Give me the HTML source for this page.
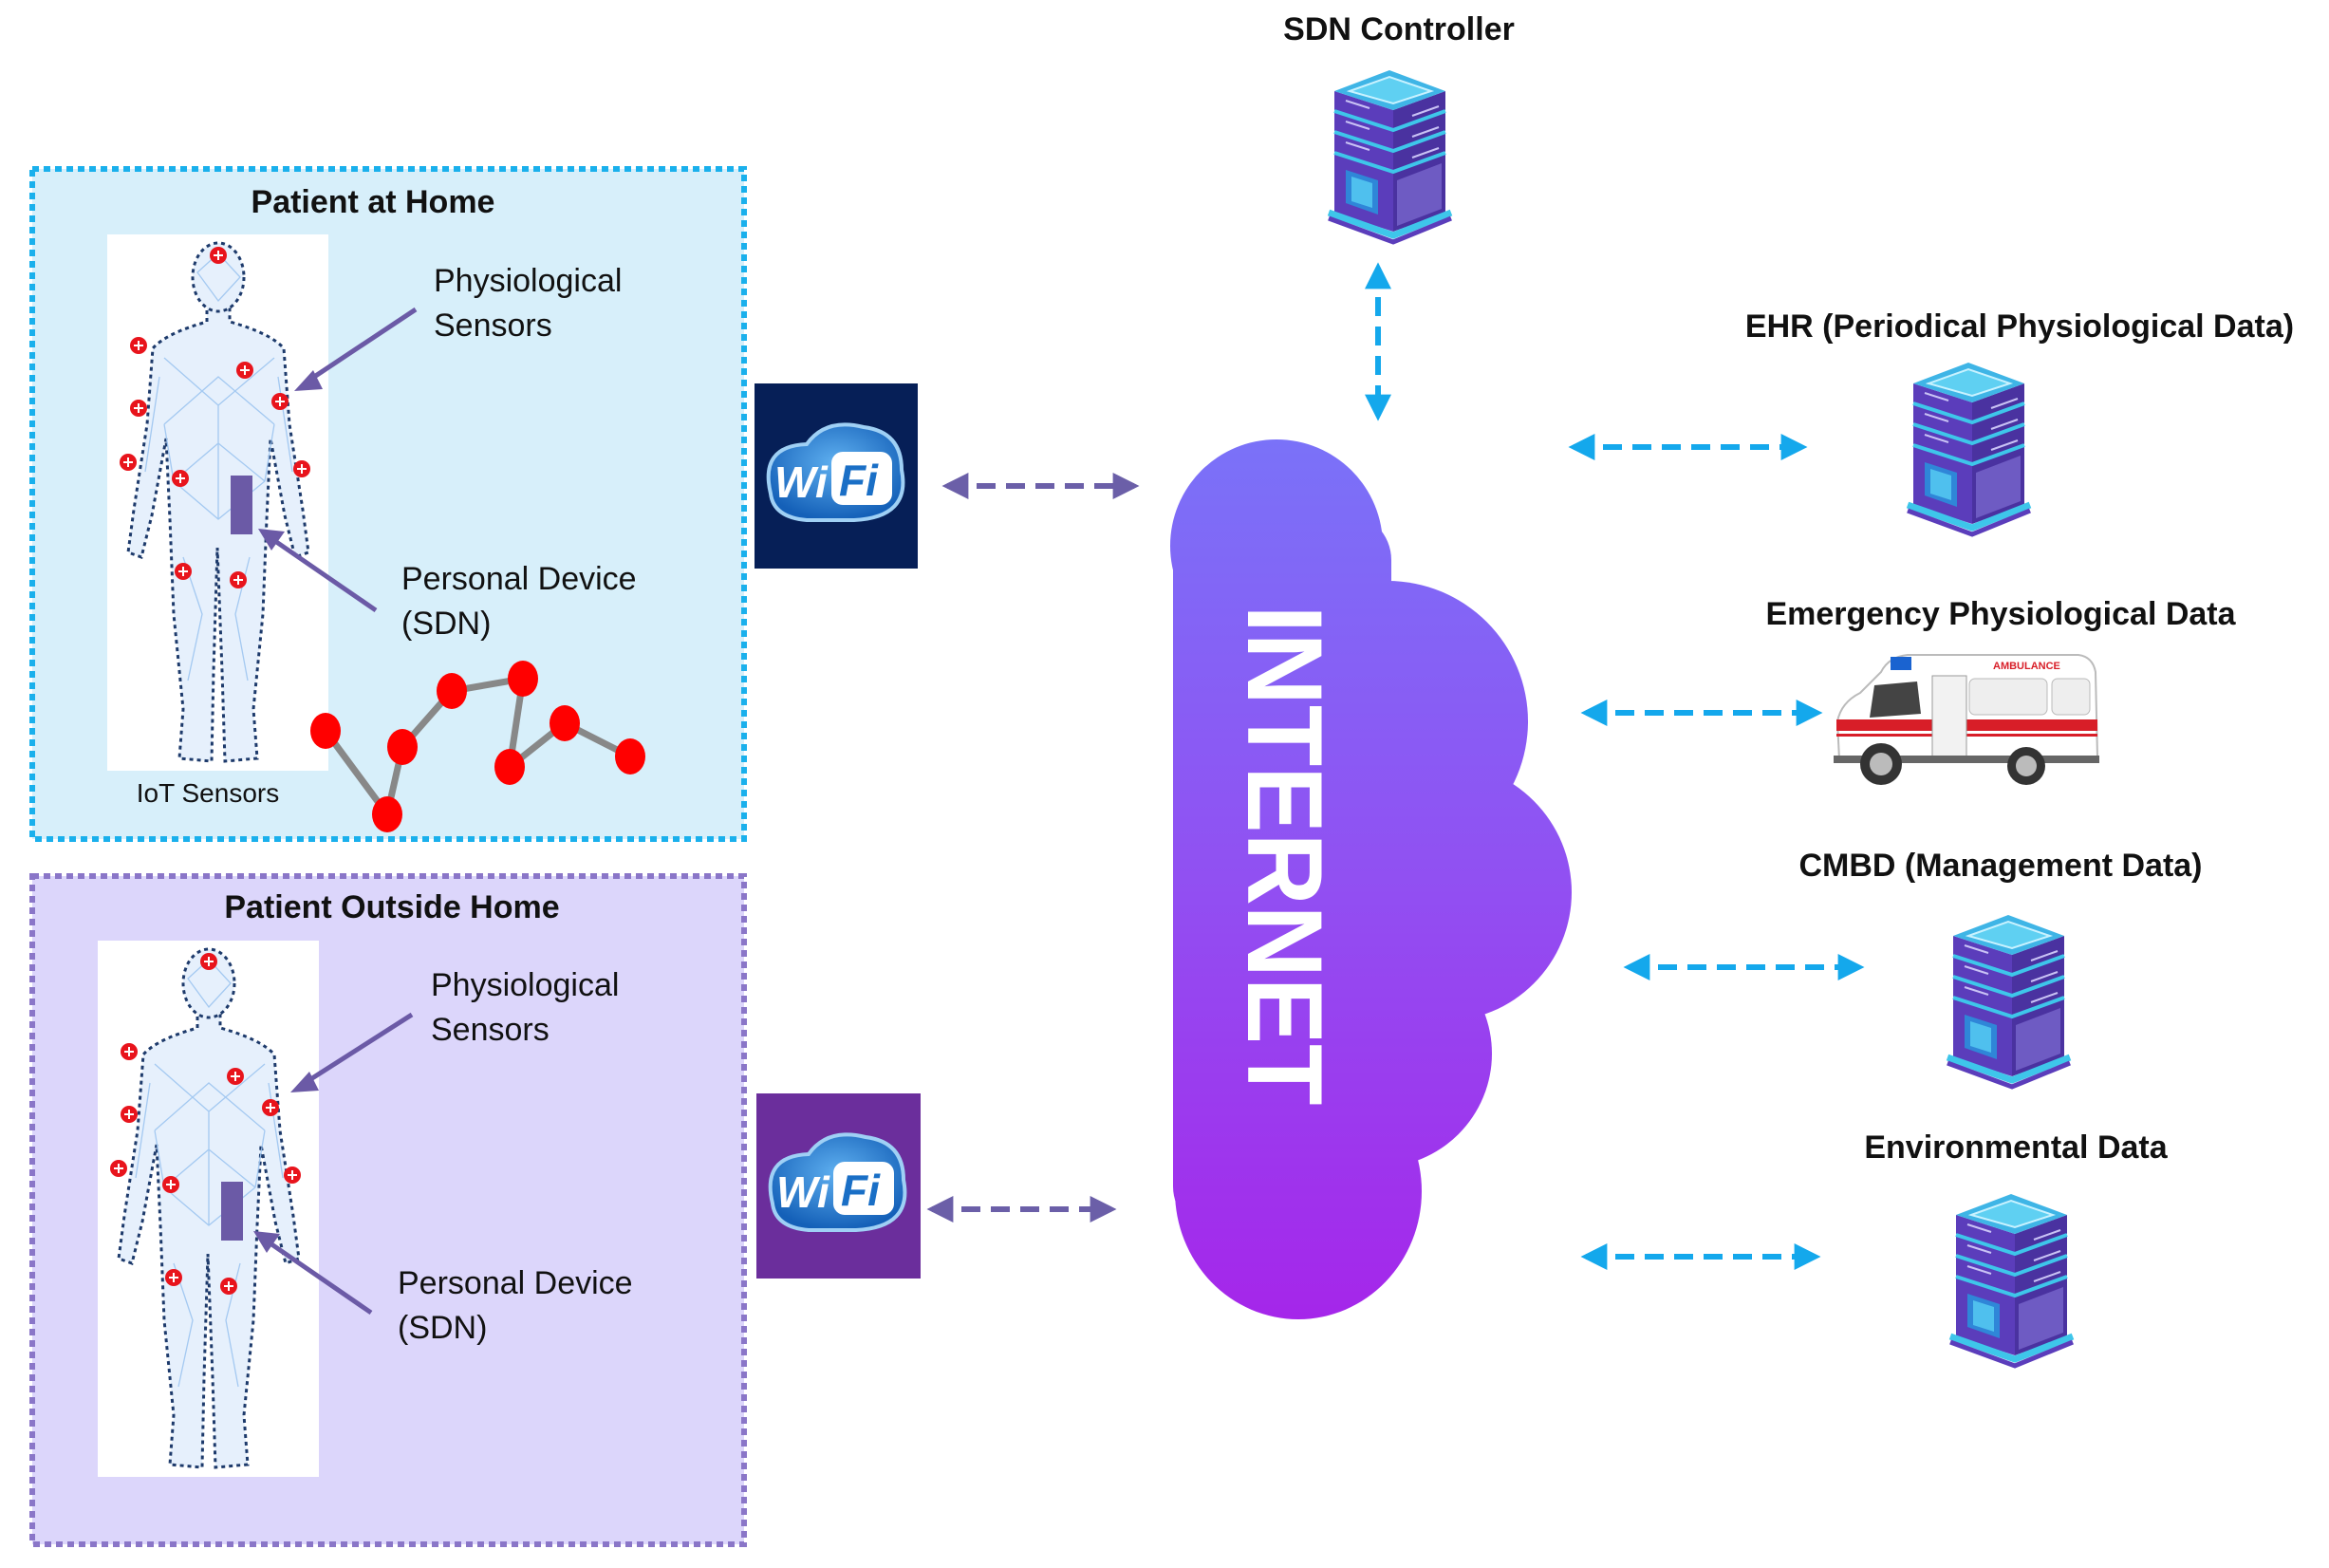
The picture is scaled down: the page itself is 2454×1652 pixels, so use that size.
<!DOCTYPE html>
<html><head><meta charset="utf-8"><style>
html,body{margin:0;padding:0;background:#fff;}
svg{display:block;}
text{font-family:"Liberation Sans",sans-serif;}
</style></head><body>
<svg width="2454" height="1652" viewBox="0 0 2454 1652" xmlns="http://www.w3.org/2000/svg">
<defs>
 <linearGradient id="cg" x1="0" y1="459" x2="0" y2="1390" gradientUnits="userSpaceOnUse">
  <stop offset="0" stop-color="#7a72f8"/><stop offset="0.5" stop-color="#9150f2"/><stop offset="1" stop-color="#a526ea"/>
 </linearGradient>
 <radialGradient id="wg" cx="0.5" cy="0.4" r="0.6"><stop offset="0" stop-color="#5fb0f0"/><stop offset="1" stop-color="#1460b8"/></radialGradient>
 <marker id="mc" viewBox="0 0 10 10" refX="8" refY="5" markerWidth="28" markerHeight="34" markerUnits="userSpaceOnUse" orient="auto-start-reverse"><path d="M0,0 L10,5 L0,10 Z" fill="#14a8ec"/></marker>
 <marker id="mp" viewBox="0 0 10 10" refX="8" refY="5" markerWidth="28" markerHeight="34" markerUnits="userSpaceOnUse" orient="auto-start-reverse"><path d="M0,0 L10,5 L0,10 Z" fill="#6b5fa8"/></marker>
 <g id="srv">
  <polygon points="18,98 80,118 80,180 18,160" fill="#5b3dbb"/>
  <polygon points="80,118 135,98 135,160 80,180" fill="#4a32a0"/>
  <polygon points="84,126 131,108 131,156 84,174" fill="#8d7ee0" opacity="0.55"/>
  <polygon points="30,115 64,126 64,162 30,150" fill="#2f86d8"/>
  <polygon points="36,122 58,129 58,155 36,148" fill="#4fc0ee"/>
  <g>
   <polygon points="18,76 80,96 80,116 18,96" fill="#5b3dbb"/><polygon points="80,96 135,76 135,96 80,116" fill="#4a32a0"/>
   <polygon points="18,54 80,74 80,94 18,74" fill="#5b3dbb"/><polygon points="80,74 135,54 135,74 80,94" fill="#4a32a0"/>
   <polygon points="18,32 80,52 80,72 18,52" fill="#5b3dbb"/><polygon points="80,52 135,32 135,52 80,72" fill="#4a32a0"/>
  </g>
  <g fill="none" stroke="#3ec6ea" stroke-width="4">
   <polyline points="18,53 80,73 135,53"/><polyline points="18,75 80,95 135,75"/><polyline points="18,97 80,117 135,97"/>
  </g>
  <g stroke="#c9c2f5" stroke-width="2"><line x1="30" y1="42" x2="55" y2="50"/><line x1="30" y1="64" x2="55" y2="72"/><line x1="30" y1="86" x2="55" y2="94"/><line x1="100" y1="58" x2="128" y2="48"/><line x1="100" y1="80" x2="128" y2="70"/><line x1="100" y1="102" x2="128" y2="92"/></g>
  <polyline points="12,160 80,184 141,160" fill="none" stroke="#3ec6ea" stroke-width="7"/>
  <polyline points="12,166 80,191 141,166" fill="none" stroke="#5b3dbb" stroke-width="5"/>
  <polygon points="18,32 76,10 135,32 80,52" fill="#3fb5e6"/>
  <polygon points="34,32 76,17 120,32 80,45" fill="#5fd0f2" stroke="#c8f2ff" stroke-width="2"/>
 </g>
 <g id="dot"><circle r="9" fill="#e8141c"/><path d="M-5,0 H5 M0,-5 V5" stroke="#fff" stroke-width="2"/></g>
 <g id="body">
  <rect x="0" y="0" width="233" height="565" fill="#fff"/>
  <path d="M105,72 L105,92 Q62,104 48,120 L42,200 L28,290 L22,335 L36,340 L47,296 L62,215 L66,300 L70,400 L80,500 L76,552 L110,555 L112,460 L116,330 L121,460 L124,555 L158,552 L154,500 L164,400 L168,300 L172,215 L187,296 L198,340 L212,335 L206,290 L192,200 L186,120 Q172,104 129,92 L129,72 Z" fill="#e6f0fc" stroke="#1d3a6b" stroke-width="3" stroke-dasharray="4 4"/>
  <ellipse cx="117" cy="45" rx="27" ry="36" fill="#e6f0fc" stroke="#1d3a6b" stroke-width="3" stroke-dasharray="4 4"/>
  <g stroke="#9cc4f0" stroke-width="1.3" fill="none" opacity="0.9">
   <path d="M60,130 L117,180 L176,130 M60,200 L117,150 L176,200 M70,260 L117,220 L166,260 M70,260 L117,300 L166,260 M80,340 L100,400 L85,470 M150,340 L135,400 L148,470 M95,40 L117,20 L140,45 L117,70 Z M55,150 L40,250 M180,150 L195,250 M117,180 L117,300 M60,200 L70,260 M176,200 L166,260"/>
  </g>
  <use href="#dot" x="117" y="22"/><use href="#dot" x="33" y="117"/><use href="#dot" x="145" y="143"/><use href="#dot" x="182" y="176"/><use href="#dot" x="33" y="183"/><use href="#dot" x="22" y="240"/><use href="#dot" x="77" y="257"/><use href="#dot" x="205" y="247"/><use href="#dot" x="80" y="355"/><use href="#dot" x="138" y="364"/>
  <rect x="130" y="254" width="23" height="62" fill="#6b5aa6"/>
 </g>
</defs>

<rect x="34" y="178" width="750" height="706" fill="#d7effa" stroke="#1ab0ec" stroke-width="6" stroke-dasharray="7 5"/>
<text x="393" y="224" font-size="34" font-weight="bold" text-anchor="middle" fill="#111">Patient at Home</text>
<use href="#body" x="113" y="247"/>
<text x="219" y="845" font-size="28" text-anchor="middle" fill="#111">IoT Sensors</text>
<text x="457" y="307" font-size="34" fill="#111">Physiological</text>
<text x="457" y="354" font-size="34" fill="#111">Sensors</text>
<line x1="438" y1="326" x2="322" y2="403" stroke="#6b5aa6" stroke-width="5"/>
<polygon points="310,412 330,390 340,410" fill="#6b5aa6"/>
<text x="423" y="621" font-size="34" fill="#111">Personal Device</text>
<text x="423" y="668" font-size="34" fill="#111">(SDN)</text>
<line x1="396" y1="643" x2="284" y2="566" stroke="#6b5aa6" stroke-width="5"/>
<polygon points="272,557 300,560 286,580" fill="#6b5aa6"/>
<polyline points="343,770 408,858 424,787 476,728 551,715 537,808 595,762 664,797" fill="none" stroke="#888" stroke-width="7"/>
<g fill="#ff0000">
 <ellipse cx="343" cy="770" rx="16" ry="19"/><ellipse cx="408" cy="858" rx="16" ry="19"/><ellipse cx="424" cy="787" rx="16" ry="19"/><ellipse cx="476" cy="728" rx="16" ry="19"/><ellipse cx="551" cy="715" rx="16" ry="19"/><ellipse cx="537" cy="808" rx="16" ry="19"/><ellipse cx="595" cy="762" rx="16" ry="19"/><ellipse cx="664" cy="797" rx="16" ry="19"/>
</g>

<rect x="34" y="923" width="750" height="704" fill="#dcd6fb" stroke="#8a76c8" stroke-width="6" stroke-dasharray="7 5"/>
<text x="413" y="967" font-size="34" font-weight="bold" text-anchor="middle" fill="#111">Patient Outside Home</text>
<use href="#body" x="103" y="991"/>
<text x="454" y="1049" font-size="34" fill="#111">Physiological</text>
<text x="454" y="1096" font-size="34" fill="#111">Sensors</text>
<line x1="434" y1="1069" x2="318" y2="1143" stroke="#6b5aa6" stroke-width="5"/>
<polygon points="306,1151 326,1129 336,1149" fill="#6b5aa6"/>
<text x="419" y="1363" font-size="34" fill="#111">Personal Device</text>
<text x="419" y="1410" font-size="34" fill="#111">(SDN)</text>
<line x1="391" y1="1383" x2="279" y2="1306" stroke="#6b5aa6" stroke-width="5"/>
<polygon points="267,1297 295,1300 281,1320" fill="#6b5aa6"/>

<rect x="795" y="404" width="172" height="195" fill="#061f57"/>
<rect x="797" y="1152" width="173" height="195" fill="#6b2e9c"/>
<g id="wifi1">
 <path d="M812,520 Q800,470 850,468 Q870,440 910,450 Q950,455 950,495 Q960,545 900,548 L850,548 Q815,545 812,520 Z" fill="url(#wg)" stroke="#9fd0f5" stroke-width="4"/>
 <text x="816" y="524" font-size="46" font-weight="bold" font-style="italic" fill="#fff">Wi</text>
 <rect x="876" y="476" width="64" height="56" rx="12" fill="#fff"/>
 <text x="884" y="522" font-size="46" font-weight="bold" font-style="italic" fill="#1a6fc6">Fi</text>
</g>
<use href="#wifi1" x="2" y="748"/>

<line x1="998" y1="512" x2="1195" y2="512" stroke="#6b5fa8" stroke-width="6" stroke-dasharray="20 11" marker-start="url(#mp)" marker-end="url(#mp)"/>
<line x1="982" y1="1274" x2="1171" y2="1274" stroke="#6b5fa8" stroke-width="6" stroke-dasharray="20 11" marker-start="url(#mp)" marker-end="url(#mp)"/>

<g fill="url(#cg)">
 <rect x="1236" y="540" width="230" height="760" rx="50"/>
 <circle cx="1345" cy="575" r="112"/>
 <circle cx="1462" cy="760" r="148"/>
 <circle cx="1520" cy="940" r="136"/>
 <circle cx="1452" cy="1110" r="120"/>
 <ellipse cx="1368" cy="1255" rx="130" ry="135"/>
</g>
<text transform="translate(1315,901) rotate(90)" x="0" y="0" font-size="112" font-weight="bold" fill="#fff" text-anchor="middle" textLength="527" lengthAdjust="spacingAndGlyphs">INTERNET</text>

<text x="1474" y="42" font-size="34" font-weight="bold" text-anchor="middle" fill="#111">SDN Controller</text>
<use href="#srv" x="1388" y="64"/>
<line x1="1452" y1="282" x2="1452" y2="438" stroke="#14a8ec" stroke-width="6" stroke-dasharray="20 11" marker-start="url(#mc)" marker-end="url(#mc)"/>

<text x="2128" y="355" font-size="34" font-weight="bold" text-anchor="middle" fill="#111">EHR (Periodical Physiological Data)</text>
<use href="#srv" x="1998" y="372"/>
<line x1="1658" y1="471" x2="1899" y2="471" stroke="#14a8ec" stroke-width="6" stroke-dasharray="20 11" marker-start="url(#mc)" marker-end="url(#mc)"/>

<text x="2108" y="658" font-size="34" font-weight="bold" text-anchor="middle" fill="#111">Emergency Physiological Data</text>
<g transform="translate(1920,680)">
 <path d="M18,120 L16,80 Q20,60 40,50 L62,28 Q70,12 90,10 L270,10 Q285,12 288,28 L290,118 Z" fill="#fff" stroke="#bbb" stroke-width="2"/>
 <path d="M55,42 L100,38 L104,72 L50,76 Z" fill="#444"/>
 <rect x="155" y="35" width="82" height="38" rx="6" fill="#eee" stroke="#bbb"/>
 <rect x="242" y="35" width="40" height="38" rx="6" fill="#eee" stroke="#bbb"/>
 <rect x="15" y="78" width="275" height="12" fill="#d81e28"/>
 <rect x="15" y="93" width="275" height="3" fill="#d81e28"/>
 <rect x="116" y="32" width="36" height="88" fill="#f2f2f2" stroke="#999"/>
 <rect x="72" y="12" width="22" height="14" fill="#1a63d0"/>
 <text x="180" y="25" font-size="11" font-weight="bold" fill="#d81e28">AMBULANCE</text>
 <rect x="12" y="116" width="280" height="8" fill="#666"/>
 <circle cx="62" cy="125" r="22" fill="#333"/><circle cx="62" cy="125" r="12" fill="#bbb"/>
 <circle cx="215" cy="127" r="20" fill="#333"/><circle cx="215" cy="127" r="11" fill="#bbb"/>
</g>
<line x1="1671" y1="751" x2="1915" y2="751" stroke="#14a8ec" stroke-width="6" stroke-dasharray="20 11" marker-start="url(#mc)" marker-end="url(#mc)"/>

<text x="2108" y="923" font-size="34" font-weight="bold" text-anchor="middle" fill="#111">CMBD (Management Data)</text>
<use href="#srv" x="2040" y="954"/>
<line x1="1716" y1="1019" x2="1959" y2="1019" stroke="#14a8ec" stroke-width="6" stroke-dasharray="20 11" marker-start="url(#mc)" marker-end="url(#mc)"/>

<text x="2124" y="1220" font-size="34" font-weight="bold" text-anchor="middle" fill="#111">Environmental Data</text>
<use href="#srv" x="2043" y="1248"/>
<line x1="1671" y1="1324" x2="1913" y2="1324" stroke="#14a8ec" stroke-width="6" stroke-dasharray="20 11" marker-start="url(#mc)" marker-end="url(#mc)"/>
</svg>
</body></html>
